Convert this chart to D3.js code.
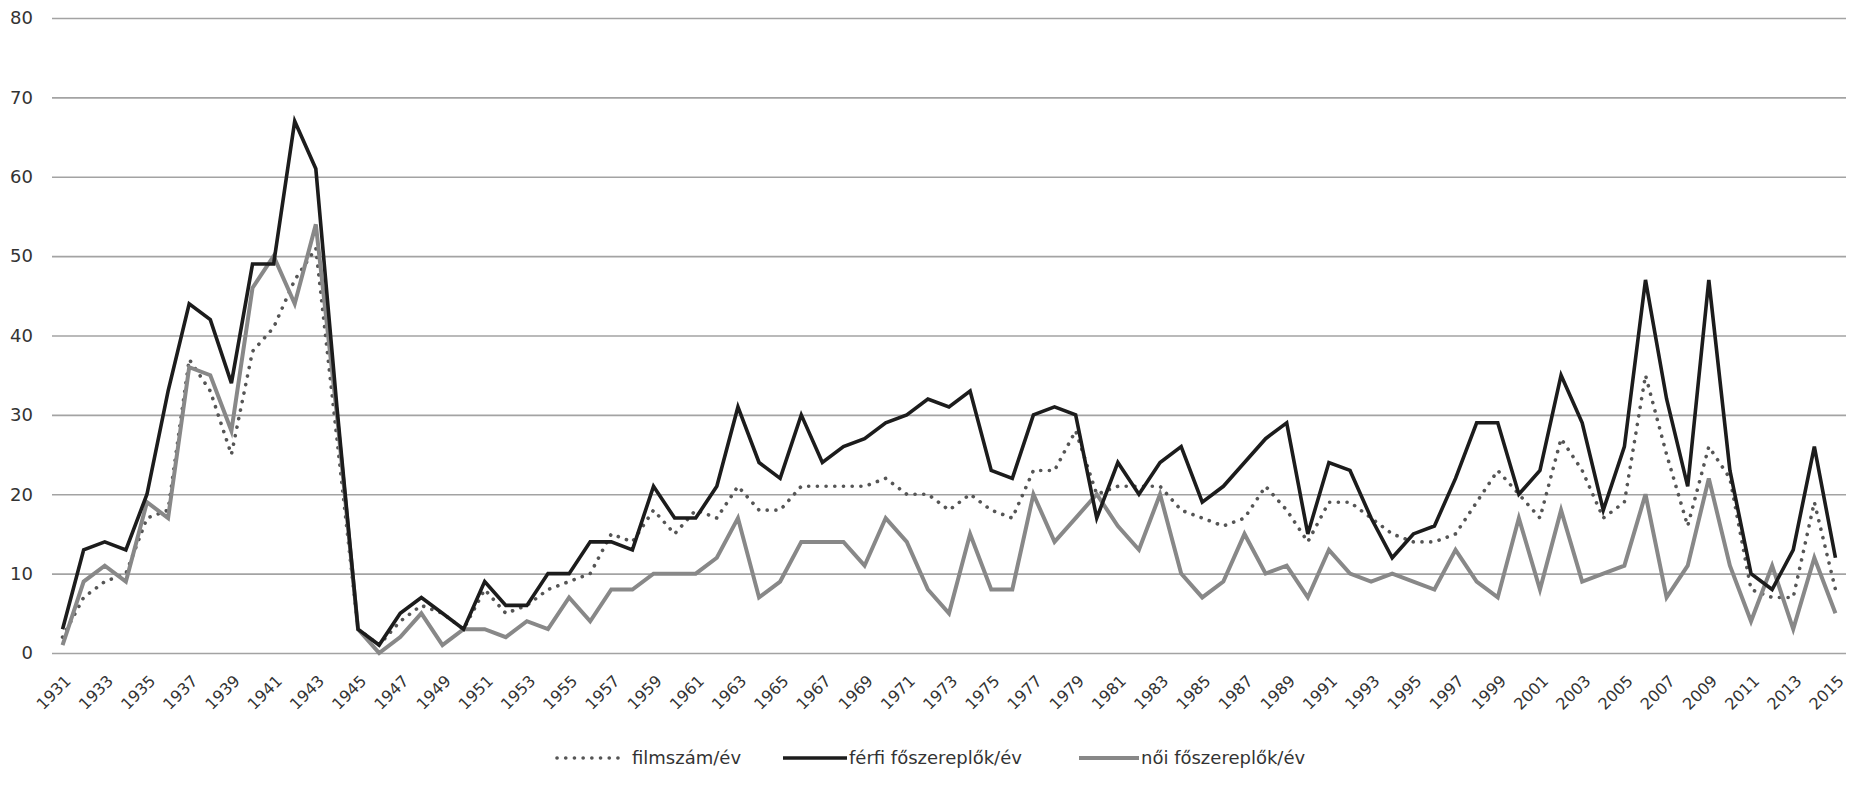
<!DOCTYPE html>
<html>
<head>
<meta charset="utf-8">
<script src="https://cdn.jsdelivr.net/npm/d3@7"></script>
<style>
  body { margin: 0; background: #fff; }
  text { font-family: "DejaVu Sans", sans-serif; fill: #333; }
</style>
</head>
<body>
<div id="chart-area"></div>
<script>
// years on the category axis
const years = d3.range(1931, 2016)

// filmszám/év (dotted)
const filmszam = [2, 7, 9, 10, 17, 18, 37, 33, 25, 38, 41, 47, 51, 27, 3, 1, 4, 6, 5, 3,
  8, 5, 6, 8, 9, 10, 15, 14, 18, 15, 18, 17, 21, 18, 18, 21, 21, 21, 21, 22,
  20, 20, 18, 20, 18, 17, 23, 23, 28, 20, 21, 21, 21, 18, 17, 16, 17, 21, 18, 14,
  19, 19, 17, 15, 14, 14, 15, 19, 23, 20, 17, 27, 23, 17, 19, 35, 25, 16, 26, 22,
  8, 7, 7, 19, 8]

// férfi főszereplők/év (black)
const ferfi = [3, 13, 14, 13, 20, 33, 44, 42, 34, 49, 49, 67, 61, 31, 3, 1, 5, 7, 5, 3,
  9, 6, 6, 10, 10, 14, 14, 13, 21, 17, 17, 21, 31, 24, 22, 30, 24, 26, 27, 29,
  30, 32, 31, 33, 23, 22, 30, 31, 30, 17, 24, 20, 24, 26, 19, 21, 24, 27, 29, 15,
  24, 23, 17, 12, 15, 16, 22, 29, 29, 20, 23, 35, 29, 18, 26, 47, 32, 21, 47, 23,
  10, 8, 13, 26, 12]

// női főszereplők/év (grey)
const noi = [1, 9, 11, 9, 19, 17, 36, 35, 28, 46, 50, 44, 54, 30, 3, 0, 2, 5, 1, 3,
  3, 2, 4, 3, 7, 4, 8, 8, 10, 10, 10, 12, 17, 7, 9, 14, 14, 14, 11, 17,
  14, 8, 5, 15, 8, 8, 20, 14, 17, 20, 16, 13, 20, 10, 7, 9, 15, 10, 11, 7,
  13, 10, 9, 10, 9, 8, 13, 9, 7, 17, 8, 18, 9, 10, 11, 20, 7, 11, 22, 11,
  4, 11, 3, 12, 5]

const yTicks = [0, 10, 20, 30, 40, 50, 60, 70, 80]
const seriesNames = ["filmszám/év", "férfi főszereplők/év", "női főszereplők/év"]

function main() {
  const W = 1870, H = 786
  const MARGIN = { LEFT: 52, RIGHT: 24, TOP: 18, BOTTOM: 133 }
  const WIDTH = W - MARGIN.LEFT - MARGIN.RIGHT
  const HEIGHT = H - MARGIN.TOP - MARGIN.BOTTOM

  const svg = d3.select("#chart-area").append("svg")
    .attr("width", W)
    .attr("height", H)
  const g = svg.append("g")
    .attr("transform", `translate(${MARGIN.LEFT}, ${MARGIN.TOP})`)

  const x = d3.scalePoint()
    .domain(years)
    .range([0, WIDTH])
    .padding(0.5)

  const y = d3.scaleLinear()
    .domain([0, 80])
    .range([HEIGHT, 0])

  // gridlines + y labels
  const yAxisCall = d3.axisLeft(y).tickValues(yTicks).tickSize(-WIDTH).tickFormat(d => d)
  const yAxis = g.append("g").attr("class", "y axis").call(yAxisCall)
  yAxis.select(".domain").remove()
  yAxis.selectAll("line").attr("stroke", "#a3a3a3").attr("stroke-width", 1.6)
  yAxis.selectAll("text")
    .attr("x", -19)
    .attr("font-size", "18px")
    .attr("fill", "#333")

  // x labels every second year
  const xAxisCall = d3.axisBottom(x).tickValues(years.filter((d, i) => i % 2 === 0)).tickSize(0)
  const xAxis = g.append("g")
    .attr("class", "x axis")
    .attr("transform", `translate(0, ${HEIGHT})`)
    .call(xAxisCall)
  xAxis.select(".domain").remove()
  xAxis.selectAll("text")
    .attr("font-size", "16px")
    .attr("font-family", "'Open Sans', sans-serif")
    .attr("fill", "#222")
    .attr("text-anchor", "end")
    .attr("x", 0)
    .attr("y", 0)
    .attr("dy", "0.35em")
    .attr("transform", "translate(5, 25) rotate(-45)")

  const line = vals => d3.line()
    .x((d, i) => x(years[i]))
    .y(d => y(d))(vals)

  const styles = [
    { data: filmszam, stroke: "#555", width: 3.6, dash: "0.1 8.6", cap: "round" },
    { data: ferfi, stroke: "#1c1c1c", width: 3.6, dash: null, cap: "butt" },
    { data: noi, stroke: "#888", width: 4, dash: null, cap: "butt" }
  ]

  // draw order: dotted, grey, black on top
  ;[0, 2, 1].forEach(k => {
    const s = styles[k]
    g.append("path")
      .attr("d", line(s.data))
      .attr("fill", "none")
      .attr("stroke", s.stroke)
      .attr("stroke-width", s.width)
      .attr("stroke-dasharray", s.dash)
      .attr("stroke-linecap", s.cap)
      .attr("stroke-linejoin", "miter")
  })

  // legend
  const legendPos = [
    { x1: 557, x2: 624, tx: 632 },
    { x1: 783, x2: 847, tx: 849 },
    { x1: 1079, x2: 1139, tx: 1141 }
  ]
  const legend = svg.append("g").attr("transform", "translate(0, 758)")
  seriesNames.forEach((name, i) => {
    const s = styles[i], p = legendPos[i]
    legend.append("line")
      .attr("x1", p.x1).attr("x2", p.x2)
      .attr("y1", 0).attr("y2", 0)
      .attr("stroke", s.stroke)
      .attr("stroke-width", s.width)
      .attr("stroke-dasharray", s.dash)
      .attr("stroke-linecap", s.cap)
    legend.append("text")
      .attr("x", p.tx)
      .attr("y", 0)
      .attr("dy", "0.35em")
      .attr("font-size", "18px")
      .attr("font-family", "'Open Sans', sans-serif")
      .attr("fill", "#333")
      .text(name)
  })
}

main()
</script>
</body>
</html>
